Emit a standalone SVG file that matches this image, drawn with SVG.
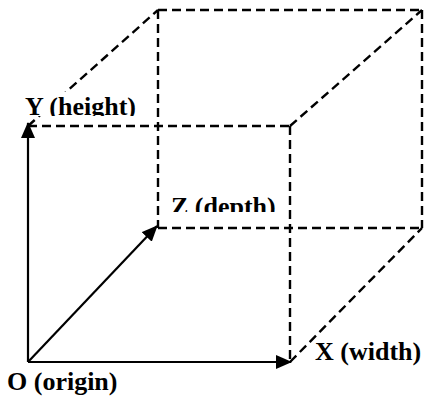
<svg xmlns="http://www.w3.org/2000/svg" width="426" height="400" viewBox="0 0 426 400">
<style>
.dash{fill:none;stroke:#000;stroke-width:2.4;stroke-dasharray:9,5}
.axis{fill:none;stroke:#000;stroke-width:2.2}
.lbl{font-family:"Liberation Serif","Times New Roman",serif;font-weight:bold;font-size:26px;fill:#000}
</style>
<defs>
<marker id="ah" viewBox="0 0 16 14" refX="15" refY="7" markerWidth="16" markerHeight="14" markerUnits="userSpaceOnUse" orient="auto">
<path d="M0,0 L16,7 L0,14 Z" fill="#000"/>
</marker>
<clipPath id="clipY"><rect x="0" y="80" width="200" height="36"/></clipPath>
<clipPath id="clipZ"><rect x="160" y="185" width="130" height="27"/></clipPath>
</defs>
<rect width="426" height="400" fill="#fff"/>
<g id="connectors">
<g id="box">
<path class="dash" d="M28,126 L290,126"/>
<path class="dash" d="M28,126 L158,10"/>
<path class="dash" d="M158,10 L422,10"/>
<path class="dash" d="M290,126 L422,10"/>
<path class="dash" d="M158,10 L158,228"/>
<path class="dash" d="M422,10 L422,228"/>
<path class="dash" d="M158,228 L422,228"/>
<path class="dash" d="M290,126 L290,362"/>
<path class="dash" d="M290,362 L422,228"/>
</g>
<g id="axes">
<path class="axis" d="M28,362 L28,123" marker-end="url(#ah)"/>
<path class="axis" d="M28,362 L157,226" marker-end="url(#ah)"/>
<path class="axis" d="M28,362 L291,362" marker-end="url(#ah)"/>
</g>
</g>
<g id="label-y">
<rect x="30" y="92" width="108" height="24" fill="#fff"/>
<text class="lbl" x="25" y="115" clip-path="url(#clipY)">Y (height)</text>
</g>
<g id="label-z">
<text class="lbl" x="171" y="215" clip-path="url(#clipZ)">Z (depth)</text>
</g>
<g id="label-o">
<text class="lbl" x="7" y="390">O (origin)</text>
</g>
<g id="label-x">
<text class="lbl" x="315" y="360">X (width)</text>
</g>
</svg>
